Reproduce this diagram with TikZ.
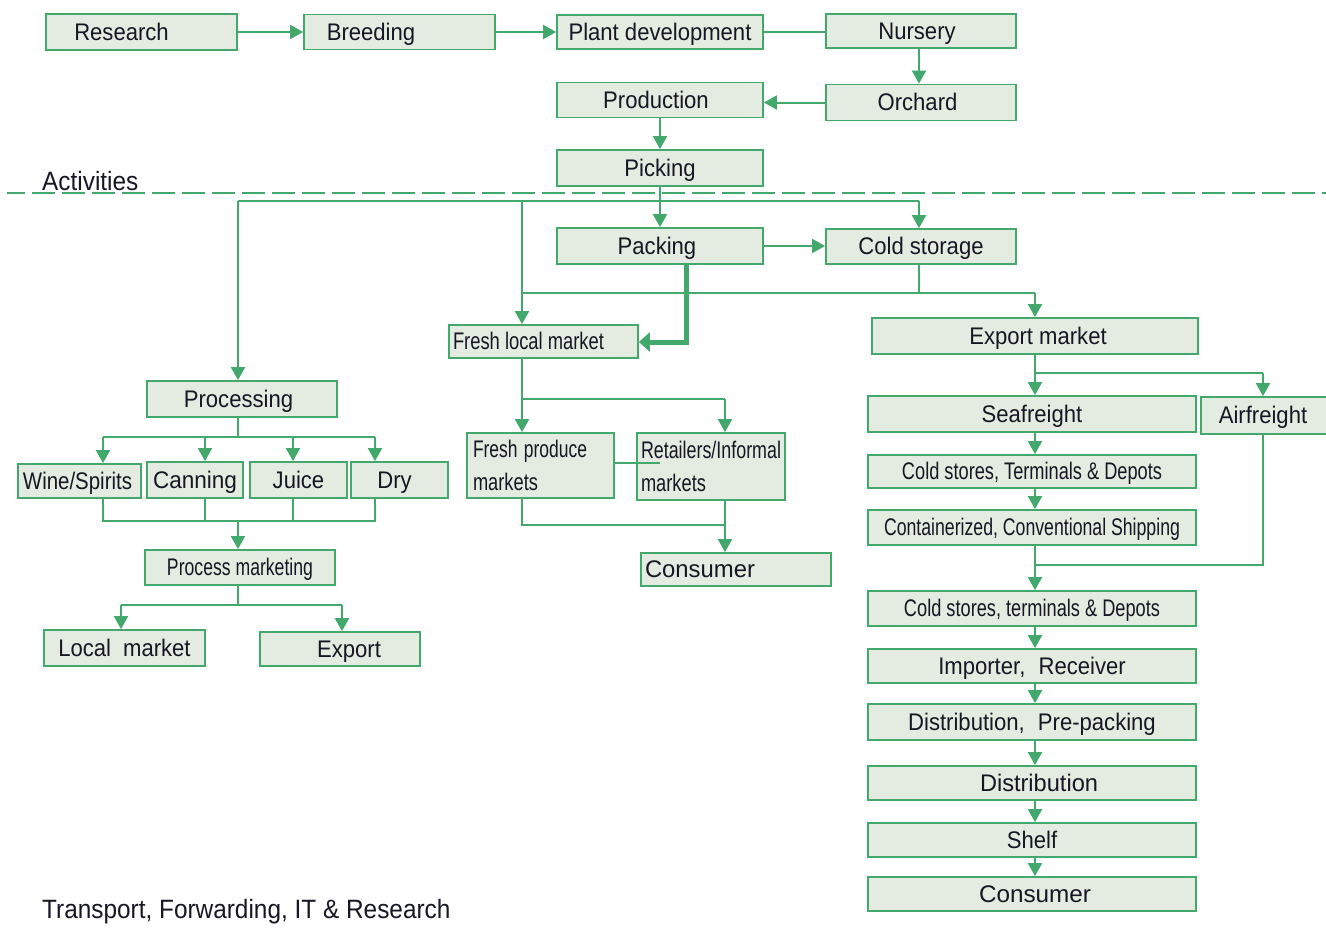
\documentclass[tikz,border=0pt]{standalone}
\usepackage{fontspec}
\usepackage{graphicx}
\setmainfont{Liberation Sans}[FakeStretch=0.92]
\usetikzlibrary{arrows.meta}

\definecolor{grn}{RGB}{66,168,108}
\definecolor{boxfill}{RGB}{228,235,224}
\definecolor{ink}{RGB}{22,22,36}

% squeeze or stretch a label horizontally to a given width (in pt)
\newcommand\fitto[2]{\resizebox{#1pt}{\height}{#2}}

\begin{document}
\begin{tikzpicture}[x=1pt,y=-1pt,
  every node/.style={font=\fontsize{24}{30}\selectfont, text=ink},
  box/.style={draw=grn, fill=boxfill, line width=1.8pt, inner sep=0pt},
  sbox/.style={box, text height=18pt, text depth=2pt},
  conn/.style={draw=grn, line width=2pt},
  arr/.style={conn, -{Triangle[width=14pt,length=13pt]}},
  thickarr/.style={draw=grn, line width=5pt, -{Triangle[width=19pt,length=11pt]}},
  sep/.style={draw=grn, line width=2pt, dash pattern=on 23pt off 7pt},
  caption/.style={font=\fontsize{26.5}{30}\selectfont, anchor=base west, inner sep=0pt}
]
\path[use as bounding box] (0,0) rectangle (1326,927);

% ---------- activities above the line ----------
\node[sbox, minimum width=191pt, minimum height=36pt] (research)   at (141.5,32)  {Research\kern40pt};
\node[sbox, minimum width=191pt, minimum height=35pt] (breeding)   at (399.5,32)  {Breeding\kern57pt};
\node[sbox, minimum width=206pt, minimum height=34pt] (plantdev)   at (660,32)    {Plant development};
\node[sbox, minimum width=190pt, minimum height=34pt] (nursery)    at (921,31)    {Nursery\kern8pt};
\node[sbox, minimum width=190pt, minimum height=36pt] (orchard)    at (921,102.5) {Orchard\kern7pt};
\node[sbox, minimum width=206pt, minimum height=35pt] (production) at (660,100)   {Production\kern8pt};
\node[sbox, minimum width=206pt, minimum height=36pt] (picking)    at (660,168)   {Picking};

\node[caption] (activities) at (42,190) {Activities};
\coordinate (sepL) at (7,193);
\coordinate (sepR) at (1326,193);
\draw[sep, dash phase=5pt] (sepL) -- (sepR);

% ---------- packing and storage ----------
\node[sbox, minimum width=206pt, minimum height=36pt] (packing)     at (660,246)   {Packing\kern6pt};
\node[sbox, minimum width=190pt, minimum height=35pt] (coldstorage) at (921,246.5) {Cold storage};
\node[sbox, minimum width=189pt, minimum height=33pt] (freshlocal)  at (543.5,341.5) {\fitto{151}{Fresh local market}\kern30pt};
\node[sbox, minimum width=326pt, minimum height=36pt] (exportmkt)   at (1035,336)  {\kern6pt Export market};

% ---------- processing branch ----------
\node[sbox, minimum width=190pt, minimum height=36pt] (processing) at (242,399)   {Processing\kern7pt};
\node[sbox, minimum width=123pt, minimum height=34pt] (wine)       at (79.5,481)  {\fitto{109}{Wine/Spirits}\kern4pt};
\node[sbox, minimum width=96pt,  minimum height=36pt] (canning)    at (195,480)   {\fitto{84}{Canning}};
\node[sbox, minimum width=97pt,  minimum height=36pt] (juice)      at (298.5,480) {Juice};
\node[sbox, minimum width=97pt,  minimum height=36pt] (dry)        at (399.5,480) {Dry\kern10pt};
\node[sbox, minimum width=190pt, minimum height=35pt] (procmkt)    at (240,567.5) {\fitto{146}{Process marketing}};
\node[sbox, minimum width=161pt, minimum height=36pt] (localmkt)   at (124.5,648) {Local\hspace{0.5em}market};
\node[sbox, minimum width=160pt, minimum height=34pt] (export)     at (340,649)   {\kern18pt Export};

% ---------- local fresh market branch ----------
\node[box, minimum width=147pt, minimum height=65pt, inner xsep=6pt, text width=135pt, align=left,
      font=\fontsize{24}{33}\selectfont] (freshprod) at (540.5,465.5)
      {\fitto{114}{Fresh produce}\\\fitto{65}{markets}};
\node[box, minimum width=148pt, minimum height=67pt, inner xsep=4pt, text width=140pt, align=left,
      font=\fontsize{24}{33}\selectfont] (retailers) at (711,466.5)
      {\fitto{140}{Retailers/Informal}\\\fitto{65}{markets}};
\node[sbox, minimum width=190pt, minimum height=33pt] (consumerA) at (736,569.5) {\fitto{110}{Consumer}\kern72pt};

% ---------- export chain ----------
\node[sbox, minimum width=328pt, minimum height=36pt] (seafreight)  at (1032,414)   {Seafreight};
\node[sbox, minimum width=127pt, minimum height=37pt] (airfreight)  at (1264.5,415.5) {Airfreight\kern3pt};
\node[sbox, minimum width=328pt, minimum height=33pt] (coldstoresA) at (1032,471.5) {\fitto{260}{Cold stores, Terminals \& Depots}};
\node[sbox, minimum width=328pt, minimum height=35pt] (container)   at (1032,527.5) {\fitto{296}{Containerized, Conventional Shipping}};
\node[sbox, minimum width=328pt, minimum height=35pt] (coldstoresB) at (1032,608.5) {\fitto{256}{Cold stores, terminals \& Depots}};
\node[sbox, minimum width=328pt, minimum height=34pt] (importer)    at (1032,666)   {Importer,\hspace{0.55em}Receiver};
\node[sbox, minimum width=328pt, minimum height=36pt] (distpre)     at (1032,722)   {Distribution,\hspace{0.55em}Pre-packing};
\node[sbox, minimum width=328pt, minimum height=34pt] (dist)        at (1032,783)   {\kern14pt\fitto{118}{Distribution}};
\node[sbox, minimum width=328pt, minimum height=34pt] (shelf)       at (1032,840)   {Shelf};
\node[sbox, minimum width=328pt, minimum height=34pt] (consumerB)   at (1032,894)   {\kern6pt\fitto{112}{Consumer}};

\node[caption] (transport) at (42,918) {Transport, Forwarding, IT \& Research};

% ---------- connectors: top chain ----------
\draw[arr] (research) -- (breeding);
\draw[arr] (breeding) -- (plantdev);
\draw[conn] (plantdev) -- (plantdev -| nursery.west);
\coordinate (nx) at (919,0);
\draw[arr] (nx |- nursery.south) -- (nx |- orchard.north);
\draw[arr] (orchard.west) -- (orchard.west -| production.east);
\draw[arr] (production) -- (picking);
\draw[arr] (picking) -- (packing);

% distribution bar under the line
\coordinate (jA) at (238,201);
\coordinate (jB) at (522,201);
\coordinate (jC) at (919,201);
\draw[conn] (jA) -- (jC);
\draw[arr] (jA) -- (jA |- processing.north);
\draw[arr] (jB) -- (jB |- freshlocal.north);
\draw[arr] (jC) -- (jC |- coldstorage.north);

\draw[arr] (packing) -- (packing -| coldstorage.west);
\coordinate (kk) at (686,342);
\draw[thickarr] (kk |- packing.south) -- (kk) -- (freshlocal.east |- kk);

% cold storage / local bar to export market
\coordinate (mA) at (522,293);
\coordinate (mB) at (1035,293);
\draw[conn] (jC |- coldstorage.south) -- (jC |- mA);
\draw[conn] (mA) -- (mB);
\draw[arr] (mB) -- (exportmkt.north);

% ---------- fresh local market branch ----------
\coordinate (fA) at (522,399);
\coordinate (fB) at (725,399);
\draw[conn] (fA |- freshlocal.south) -- (fA) -- (fB);
\draw[arr] (fA) -- (fA |- freshprod.north);
\draw[arr] (fB) -- (fB |- retailers.north);
\coordinate (rr) at (660,463);
\draw[conn] (freshprod.east |- rr) -- (rr);
\coordinate (gA) at (522,525);
\coordinate (gB) at (725,525);
\draw[conn] (gA |- freshprod.south) -- (gA) -- (gB);
\draw[arr] (gB |- retailers.south) -- (gB |- consumerA.north);

% ---------- processing branch ----------
\coordinate (pO) at (238,437);
\coordinate (pW) at (103,437);
\coordinate (pC) at (205,437);
\coordinate (pJ) at (293,437);
\coordinate (pD) at (375,437);
\draw[conn] (pO |- processing.south) -- (pO);
\draw[conn] (pW) -- (pD);
\draw[arr] (pW) -- (pW |- wine.north);
\draw[arr] (pC) -- (pC |- canning.north);
\draw[arr] (pJ) -- (pJ |- juice.north);
\draw[arr] (pD) -- (pD |- dry.north);
\coordinate (qO) at (238,521);
\coordinate (qW) at (103,521);
\coordinate (qD) at (375,521);
\draw[conn] (pW |- wine.south) -- (qW) -- (qD) -- (pD |- dry.south);
\draw[conn] (pC |- canning.south) -- (pC |- qO);
\draw[conn] (pJ |- juice.south) -- (pJ |- qO);
\draw[arr] (qO) -- (qO |- procmkt.north);
\coordinate (sO) at (238,605);
\coordinate (sL) at (121,605);
\coordinate (sE) at (342,605);
\draw[conn] (sO |- procmkt.south) -- (sO);
\draw[conn] (sL) -- (sE);
\draw[arr] (sL) -- (sL |- localmkt.north);
\draw[arr] (sE) -- (sE |- export.north);

% ---------- export chain ----------
\coordinate (col) at (1035,0);
\coordinate (eA) at (1035,373);
\coordinate (eB) at (1263,373);
\draw[conn] (exportmkt.south) -- (eA) -- (eB);
\draw[arr] (eA) -- (col |- seafreight.north);
\draw[arr] (eB) -- (eB |- airfreight.north);
\draw[arr] (col |- seafreight.south)  -- (col |- coldstoresA.north);
\draw[arr] (col |- coldstoresA.south) -- (col |- container.north);
\draw[arr] (col |- container.south)   -- (col |- coldstoresB.north);
\coordinate (aA) at (1263,565);
\coordinate (aB) at (1035,565);
\draw[conn] (eB |- airfreight.south) -- (aA) -- (aB);
\draw[arr] (col |- coldstoresB.south) -- (col |- importer.north);
\draw[arr] (col |- importer.south)    -- (col |- distpre.north);
\draw[arr] (col |- distpre.south)     -- (col |- dist.north);
\draw[arr] (col |- dist.south)        -- (col |- shelf.north);
\draw[arr] (col |- shelf.south)       -- (col |- consumerB.north);
\end{tikzpicture}
\end{document}
